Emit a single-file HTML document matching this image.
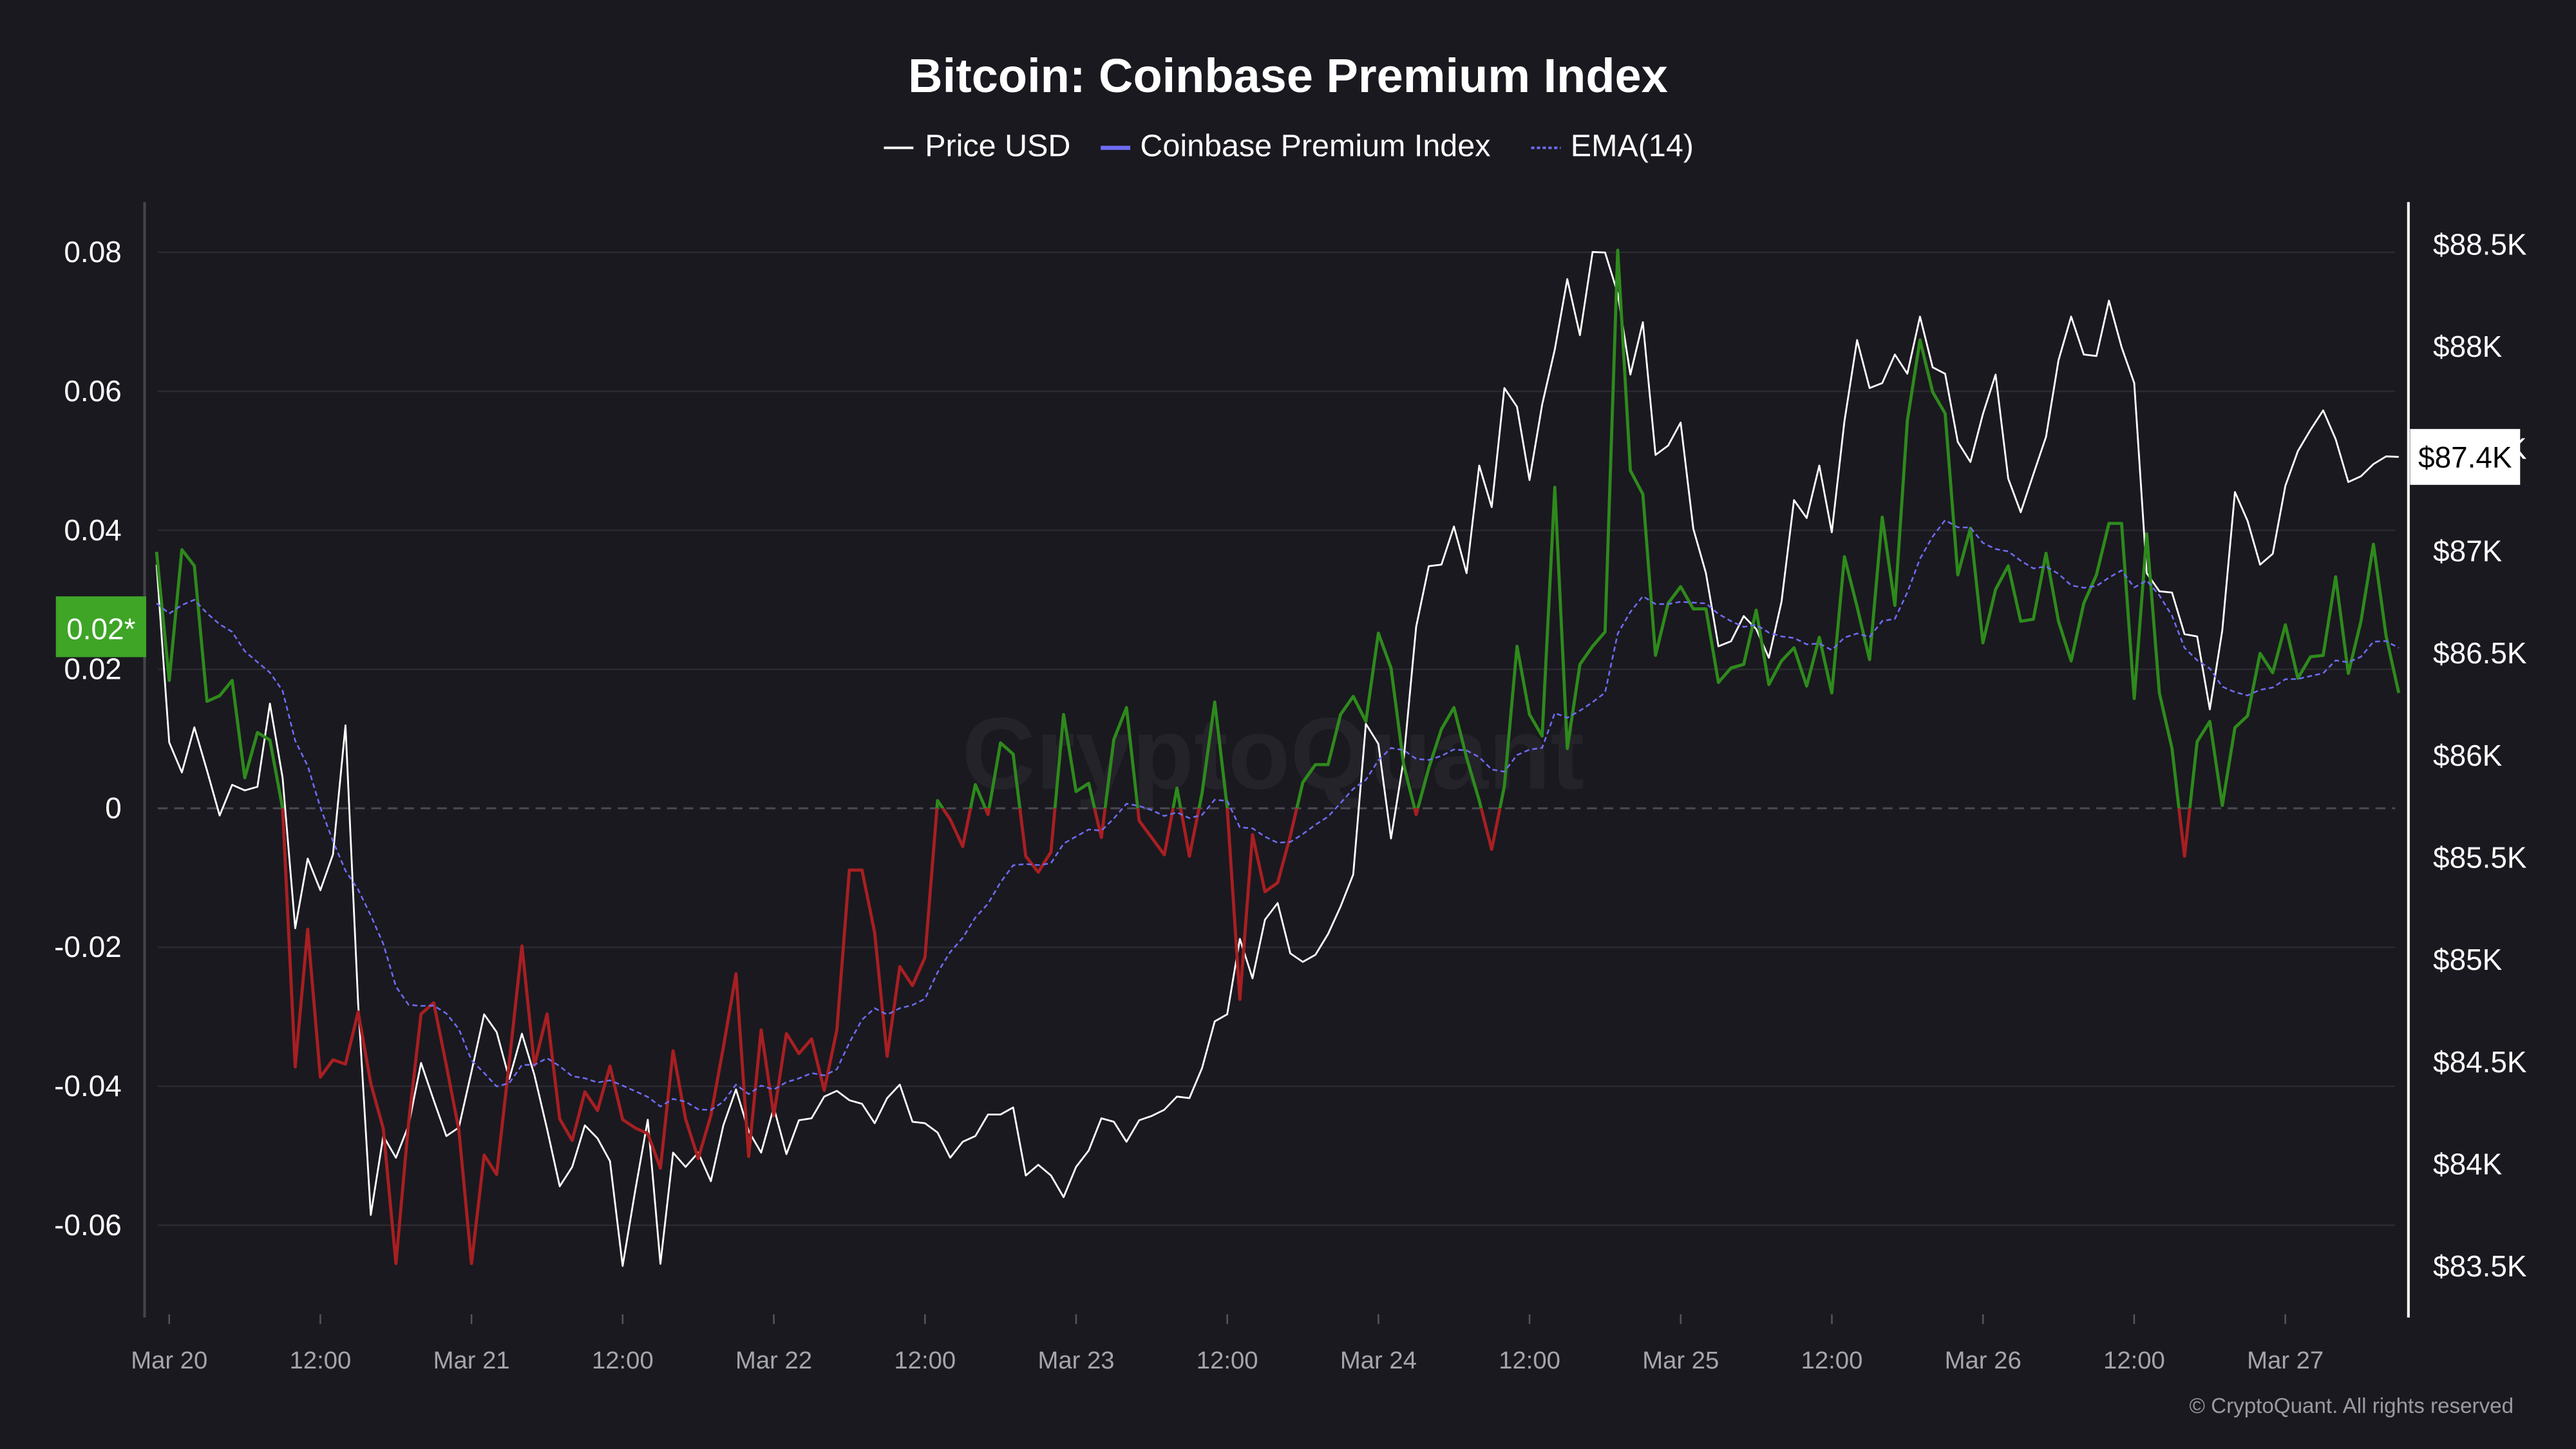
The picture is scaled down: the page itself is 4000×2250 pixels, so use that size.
<!DOCTYPE html>
<html><head><meta charset="utf-8"><title>Bitcoin: Coinbase Premium Index</title>
<style>
html,body{margin:0;padding:0;background:#1a191f;}
svg{display:block;font-family:"Liberation Sans",sans-serif;}
</style></head>
<body>
<svg id="chart" width="4000" height="2250" viewBox="0 0 1568 882" xmlns="http://www.w3.org/2000/svg">
<rect x="0" y="0" width="1568" height="882" fill="#1a191f"/>
<defs>
<clipPath id="clipAbove"><rect x="80" y="100" width="1390" height="392"/></clipPath>
<clipPath id="clipBelow"><rect x="80" y="492" width="1390" height="330"/></clipPath>
</defs>
<text x="784" y="56" text-anchor="middle" fill="#ffffff" font-size="29" font-weight="bold">Bitcoin: Coinbase Premium Index</text>
<g font-size="19" fill="#ffffff">
 <g><line x1="538" y1="90" x2="556" y2="90" stroke="#ffffff" stroke-width="1.5"/><text x="563" y="95">Price USD</text></g>
 <g><line x1="670" y1="90" x2="688" y2="90" stroke="#6f6cf6" stroke-width="2.5"/><text x="694" y="95">Coinbase Premium Index</text></g>
 <g><line x1="932" y1="90" x2="950" y2="90" stroke="#6f6cf6" stroke-width="1.5" stroke-dasharray="2 1.5"/><text x="956" y="95">EMA(14)</text></g>
</g>
<text x="775" y="480" text-anchor="middle" fill="#24232a" font-size="62" font-weight="bold">CryptoQuant</text>
<g id="grid"></g>
<g id="marks"></g>
<g id="axes"></g>
<text x="1530" y="860" text-anchor="end" fill="#9a9aa3" font-size="13">© CryptoQuant. All rights reserved</text>
</svg>
<script>
const hours = [];
for (let h = -1; h <= 177; h++) hours.push(h);
const premium = [0.0369,0.0184,0.0372,0.0349,0.0154,0.0162,0.0184,0.0044,0.0109,0.0098,0,-0.0372,-0.0174,-0.0387,-0.0362,-0.0368,-0.0293,-0.0396,-0.0461,-0.0655,-0.0453,-0.0296,-0.0280,-0.0370,-0.0463,-0.0655,-0.0499,-0.0527,-0.0365,-0.0198,-0.0370,-0.0296,-0.0447,-0.0478,-0.0408,-0.0435,-0.0371,-0.0448,-0.0460,-0.0468,-0.0518,-0.0349,-0.0447,-0.0504,-0.0442,-0.0344,-0.0238,-0.0501,-0.0319,-0.0442,-0.0324,-0.0353,-0.0332,-0.0406,-0.0319,-0.0089,-0.0089,-0.0179,-0.0357,-0.0228,-0.0255,-0.0215,0.0011,-0.0016,-0.0055,0.0034,-0.0009,0.0094,0.0078,-0.0069,-0.0092,-0.0063,0.0135,0.0024,0.0036,-0.0042,0.0099,0.0145,-0.0018,-0.0042,-0.0067,0.0029,-0.0069,0.0022,0.0153,0.0001,-0.0275,-0.0038,-0.0120,-0.0107,-0.0040,0.0037,0.0063,0.0063,0.0135,0.0161,0.0125,0.0252,0.0202,0.0063,-0.0009,0.0058,0.0114,0.0145,0.0073,0.0011,-0.0059,0.0032,0.0233,0.0135,0.0104,0.0462,0.0086,0.0207,0.0233,0.0254,0.0803,0.0486,0.0452,0.0220,0.0295,0.0319,0.0287,0.0287,0.0181,0.0202,0.0207,0.0285,0.0178,0.0212,0.0231,0.0176,0.0246,0.0166,0.0362,0.0290,0.0214,0.0419,0.0292,0.0558,0.0674,0.0599,0.0568,0.0336,0.0403,0.0238,0.0315,0.0349,0.0269,0.0272,0.0367,0.0269,0.0212,0.0295,0.0336,0.0410,0.0410,0.0158,0.0395,0.0166,0.0086,-0.0069,0.0096,0.0125,0.0004,0.0116,0.0133,0.0223,0.0195,0.0264,0.0187,0.0218,0.0220,0.0333,0.0194,0.0269,0.0380,0.0248,0.0166];
const price = [86935,86065,85918,86139,85928,85707,85858,85830,85848,86255,85893,85156,85497,85342,85518,86149,84788,83753,84139,84033,84191,84497,84314,84139,84181,84454,84735,84648,84419,84640,84437,84174,83893,83988,84191,84128,84016,83503,83875,84219,83514,84058,83988,84058,83918,84191,84367,84163,84058,84279,84051,84216,84226,84332,84360,84314,84297,84202,84325,84391,84209,84202,84156,84033,84111,84139,84244,84244,84279,83946,83998,83946,83840,83988,84068,84226,84209,84111,84216,84237,84268,84332,84325,84472,84700,84735,85104,84911,85198,85279,85033,84991,85026,85128,85262,85419,86156,86058,85595,85981,86630,86928,86935,87121,86893,87420,87216,87799,87707,87349,87718,87988,88332,88058,88465,88462,88262,87865,88121,87472,87518,87630,87111,86893,86535,86560,86683,86620,86479,86753,87251,87163,87420,87093,87637,88034,87799,87823,87963,87869,88149,87900,87869,87535,87437,87672,87865,87356,87191,87377,87560,87935,88149,87963,87956,88227,87999,87823,86893,86805,86798,86595,86584,86227,86613,87290,87149,86935,86988,87321,87490,87595,87690,87549,87339,87367,87427,87465,87462];
const emaSeed = 0.0295;
const leftTicks = [0.08,0.06,0.04,0.02,0,-0.02,-0.04,-0.06];
const leftTickLabels = ["0.08","0.06","0.04","0.02","0","-0.02","-0.04","-0.06"];
const rightTicks = [88500,88000,87500,87000,86500,86000,85500,85000,84500,84000,83500];
const rightTickLabels = ["$88.5K","$88K","$87.5K","$87K","$86.5K","$86K","$85.5K","$85K","$84.5K","$84K","$83.5K"];
const xTickHours = [0,12,24,36,48,60,72,84,96,108,120,132,144,156,168];
const xTickLabels = ["Mar 20","12:00","Mar 21","12:00","Mar 22","12:00","Mar 23","12:00","Mar 24","12:00","Mar 25","12:00","Mar 26","12:00","Mar 27"];
const currentPremiumLabel = "0.02*";
const currentPriceLabel = "$87.4K";

const NS = "http://www.w3.org/2000/svg";
function xs(h){ return 103 + h * 7.667; }
function yl(v){ return 492 - v * 4230; }
function yr(p){ return 149 + (88500 - p) * 0.1244; }
function mk(tag, attrs, parent){ const e = document.createElementNS(NS, tag); for (const k in attrs) e.setAttribute(k, attrs[k]); parent.appendChild(e); return e; }

const grid = document.getElementById('grid');
const marks = document.getElementById('marks');
const axes = document.getElementById('axes');

leftTicks.forEach((v, i) => {
  if (v !== 0) {
    const g = mk('line', {x1: 96, x2: 1458, y1: yl(v), y2: yl(v), stroke: '#2b2a31', 'stroke-width': 1}, grid);
    
    
  }
  const t = mk('text', {x: 74, y: yl(v) + 6, 'text-anchor': 'end', fill: '#ffffff', 'font-size': 18}, axes);
  t.textContent = leftTickLabels[i];
  
  
});
const zl = mk('line', {x1: 96, x2: 1458, y1: yl(0), y2: yl(0), stroke: '#4a4955', 'stroke-width': 1.2, 'stroke-dasharray': '6 4'}, grid);



rightTicks.forEach((p, i) => {
  const t = mk('text', {x: 1481, y: yr(p) + 6, fill: '#ffffff', 'font-size': 18}, axes);
  t.textContent = rightTickLabels[i];
  
  
});
xTickHours.forEach((h, i) => {
  const tk = mk('line', {x1: xs(h), x2: xs(h), y1: 800, y2: 806, stroke: '#55545c', 'stroke-width': 1}, axes);
  
  
  const t = mk('text', {x: xs(h), y: 833, 'text-anchor': 'middle', fill: '#a5a5ad', 'font-size': 15}, axes);
  t.textContent = xTickLabels[i];
  
  
});
const la = mk('line', {x1: 88, x2: 88, y1: 123, y2: 802, stroke: '#45444c', 'stroke-width': 1.6}, axes);


const ra = mk('line', {x1: 1466, x2: 1466, y1: 123, y2: 802, stroke: '#ffffff', 'stroke-width': 1.6}, axes);



// price line
const pricePts = hours.map((h, i) => xs(h).toFixed(1) + ',' + yr(price[i]).toFixed(1)).join(' ');
const pl = mk('polyline', {points: pricePts, fill: 'none', stroke: '#ffffff', 'stroke-width': 1.1, 'stroke-linejoin': 'round'}, marks);



// premium line (green above zero, red below)
const premPts = hours.map((h, i) => xs(h).toFixed(1) + ',' + yl(premium[i]).toFixed(1)).join(' ');
const pg = mk('polyline', {points: premPts, fill: 'none', stroke: '#2e8a1c', 'stroke-width': 1.9, 'stroke-linejoin': 'round', 'clip-path': 'url(#clipAbove)'}, marks);


const pr = mk('polyline', {points: premPts, fill: 'none', stroke: '#a81f22', 'stroke-width': 1.9, 'stroke-linejoin': 'round', 'clip-path': 'url(#clipBelow)'}, marks);



// EMA(14)
const alpha = 2 / 15;
let e = emaSeed;
const ema = premium.map((v, i) => { e = i === 0 ? emaSeed : alpha * v + (1 - alpha) * e; return e; });
const emaPts = hours.map((h, i) => xs(h).toFixed(1) + ',' + yl(ema[i]).toFixed(1)).join(' ');
const el = mk('polyline', {points: emaPts, fill: 'none', stroke: '#6f6cf6', 'stroke-width': 1, 'stroke-dasharray': '3 2'}, marks);



// current value badges
const gb = mk('rect', {x: 34, y: 363, width: 55, height: 37, fill: '#3ea526'}, axes);


const gt = mk('text', {x: 61.5, y: 389, 'text-anchor': 'middle', fill: '#ffffff', 'font-size': 18}, axes);
gt.textContent = currentPremiumLabel;


const lastPrice = price[price.length - 1];
const wb = mk('rect', {x: 1467, y: yr(lastPrice) - 17, width: 67, height: 34, fill: '#ffffff'}, axes);


const wt = mk('text', {x: 1500.5, y: yr(lastPrice) + 6.5, 'text-anchor': 'middle', fill: '#000000', 'font-size': 18}, axes);
wt.textContent = currentPriceLabel;


</script>
</body></html>
